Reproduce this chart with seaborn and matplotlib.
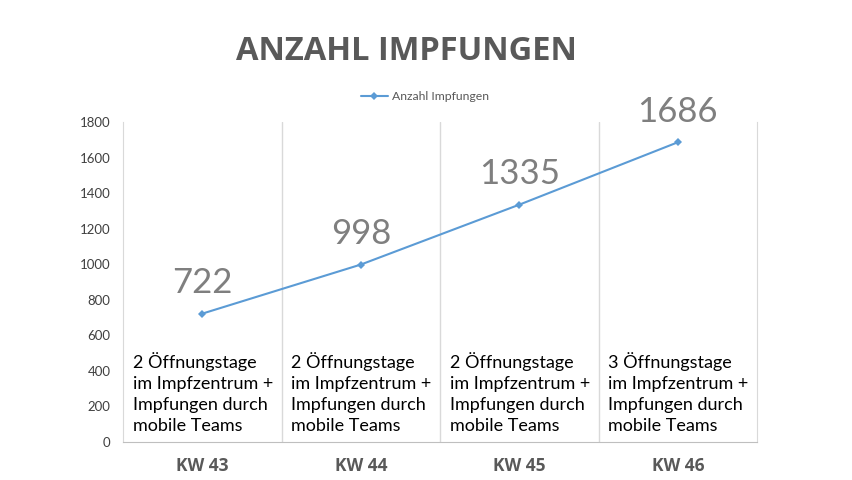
import pandas as pd
import seaborn as sns
import matplotlib.pyplot as plt

# data
weeks = ['KW 43', 'KW 44', 'KW 45', 'KW 46']
impfungen = [722, 998, 1335, 1686]
notes = [
    '2 Öffnungstage\nim Impfzentrum +\nImpfungen durch\nmobile Teams',
    '2 Öffnungstage\nim Impfzentrum +\nImpfungen durch\nmobile Teams',
    '2 Öffnungstage\nim Impfzentrum +\nImpfungen durch\nmobile Teams',
    '3 Öffnungstage\nim Impfzentrum +\nImpfungen durch\nmobile Teams',
]
yticks = [0, 200, 400, 600, 800, 1000, 1200, 1400, 1600, 1800]

df = pd.DataFrame({'Woche': weeks, 'Anzahl Impfungen': impfungen})

sns.set_style('white')
plt.rcParams['font.family'] = ['Lato', 'DejaVu Sans']

fig = plt.figure(figsize=(8.53, 4.8), dpi=100)
ax = fig.add_axes([0.1442, 0.0792, 0.7433, 0.6666])

sns.lineplot(data=df, x='Woche', y='Anzahl Impfungen', marker='D', markersize=4,
             color='#5b9bd5', linewidth=1.5, markeredgewidth=0, ax=ax,
             label='Anzahl Impfungen', legend=False)

ax.set_xlim(-0.5, 3.5)
ax.set_ylim(0, 1800)
ax.set_yticks(yticks)
ax.set_xticks(range(len(weeks)), weeks, fontweight='bold', fontsize=12.5,
              family=['Open Sans', 'DejaVu Sans'], color='#595959')
ax.set_xlabel('')
ax.set_ylabel('')

# category separators
for b in [0.5, 1.5, 2.5]:
    ax.axvline(b, color='#d9d9d9', linewidth=1, zorder=0)

for side in ['left', 'right']:
    ax.spines[side].set_color('#d9d9d9')
ax.spines['top'].set_visible(False)
ax.spines['bottom'].set_color('#bfbfbf')

ax.tick_params(axis='y', length=0, pad=9, labelsize=9.5, labelcolor='#404040')
ax.tick_params(axis='x', length=0, pad=11)

# value labels above points
for i, v in enumerate(impfungen):
    ax.annotate(str(v), (i, v), xytext=(0, 22), textcoords='offset points',
                ha='center', va='center', fontsize=25, color='#7f7f7f')

# note text in each column
for i, t in enumerate(notes):
    ax.text(i - 0.44, 505, t, ha='left', va='top', fontsize=13, color='black',
            linespacing=1.38)

fig.text(0.477, 0.892, 'ANZAHL IMPFUNGEN', ha='center', va='center',
         fontsize=23.5, fontweight='bold', color='#595959', family=['Open Sans', 'DejaVu Sans'])

leg = fig.legend(*ax.get_legend_handles_labels(), loc='center', bbox_to_anchor=(0.498, 0.798),
                 frameon=False, fontsize=8.8, handlelength=2.2, handletextpad=0.3)
for t in leg.get_texts():
    t.set_color('#595959')

fig.savefig('out.png', dpi=100)
